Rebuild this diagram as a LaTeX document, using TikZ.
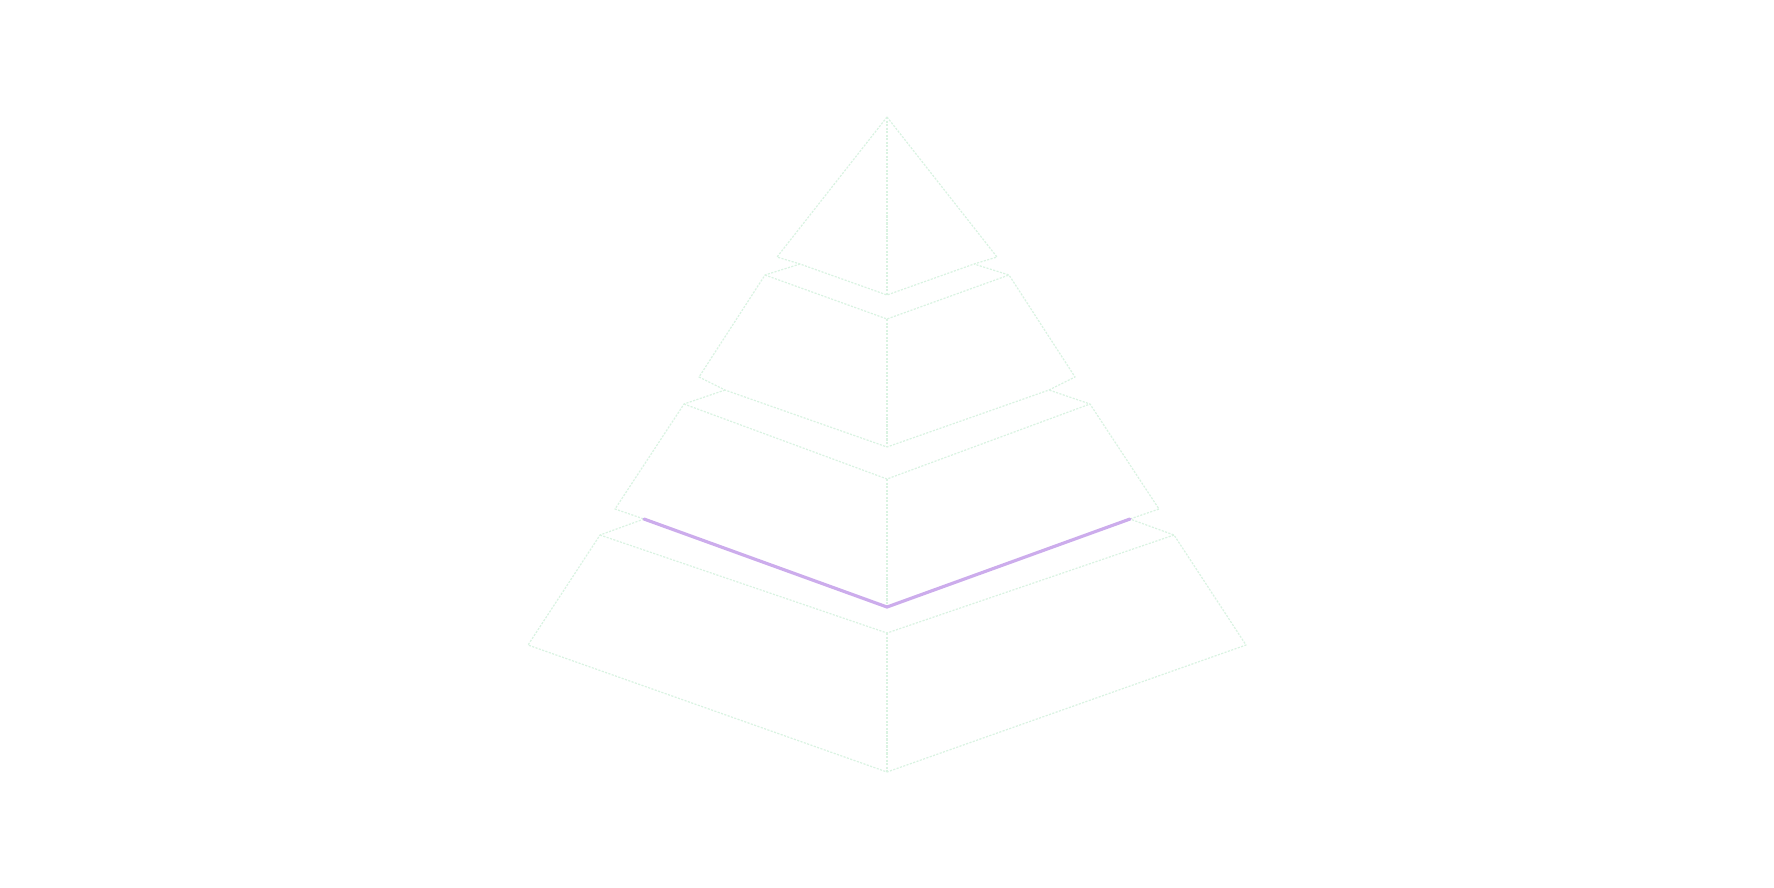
\documentclass[tikz,border=0pt]{standalone}
\definecolor{edgegreen}{RGB}{218,243,226}
\definecolor{hlpurple}{RGB}{204,172,236}
\tikzset{
  edge/.style={draw=edgegreen, line width=0.7pt, dash pattern=on 1.2pt off 0.8pt, line join=round},
  highlight/.style={draw=hlpurple, line width=1.8pt, line cap=round, line join=round}
}
\begin{document}
\begin{tikzpicture}[x=0.02cm,y=-0.02cm]
\useasboundingbox (0,0) rectangle (1774,887);
% centre
\def\cx{887}
% tier 1
\coordinate (A) at (\cx,117);
\coordinate (L1) at (\cx-110,257);
\coordinate (P1) at (\cx-87,264);
\coordinate (V1) at (\cx,295);
\coordinate (P1r) at (\cx+87,264);
\coordinate (R1) at (\cx+110,257);
% tier 2
\coordinate (Q2) at (\cx-122,275);
\coordinate (V2t) at (\cx,319);
\coordinate (Q2r) at (\cx+122,275);
\coordinate (L2) at (\cx-188,377);
\coordinate (P2) at (\cx-162,390);
\coordinate (V2) at (\cx,447);
\coordinate (P2r) at (\cx+162,390);
\coordinate (R2) at (\cx+188,377);
% tier 3
\coordinate (Q3) at (\cx-203,404);
\coordinate (V3t) at (\cx,479);
\coordinate (Q3r) at (\cx+203,404);
\coordinate (L3) at (\cx-272,509);
\coordinate (P3) at (\cx-243,519);
\coordinate (V3) at (\cx,607);
\coordinate (P3r) at (\cx+243,519);
\coordinate (R3) at (\cx+272,509);
% tier 4
\coordinate (Q4) at (\cx-287,535);
\coordinate (V4t) at (\cx,633);
\coordinate (Q4r) at (\cx+287,535);
\coordinate (L4) at (\cx-359,645);
\coordinate (V4) at (\cx,772);
\coordinate (R4) at (\cx+359,645);

% tier 1
\draw[edge] (A) -- (L1) -- (P1) -- (V1) -- (P1r) -- (R1) -- cycle;
\draw[edge] (A) -- (V1);
% tier 2
\draw[edge] (P1) -- (Q2) -- (L2) -- (P2) -- (V2) -- (P2r) -- (R2) -- (Q2r) -- (P1r);
\draw[edge] (Q2) -- (V2t) -- (Q2r);
\draw[edge] (V2t) -- (V2);
% tier 3
\draw[edge] (P2) -- (Q3) -- (L3) -- (P3) -- (V3) -- (P3r) -- (R3) -- (Q3r) -- (P2r);
\draw[edge] (Q3) -- (V3t) -- (Q3r);
\draw[edge] (V3t) -- (V3);
% tier 4
\draw[edge] (P3) -- (Q4) -- (L4) -- (V4) -- (R4) -- (Q4r) -- (P3r);
\draw[edge] (Q4) -- (V4t) -- (Q4r);
\draw[edge] (V4t) -- (V4);
% highlight
\draw[highlight] (P3) -- (V3) -- (P3r);
\end{tikzpicture}
\end{document}
